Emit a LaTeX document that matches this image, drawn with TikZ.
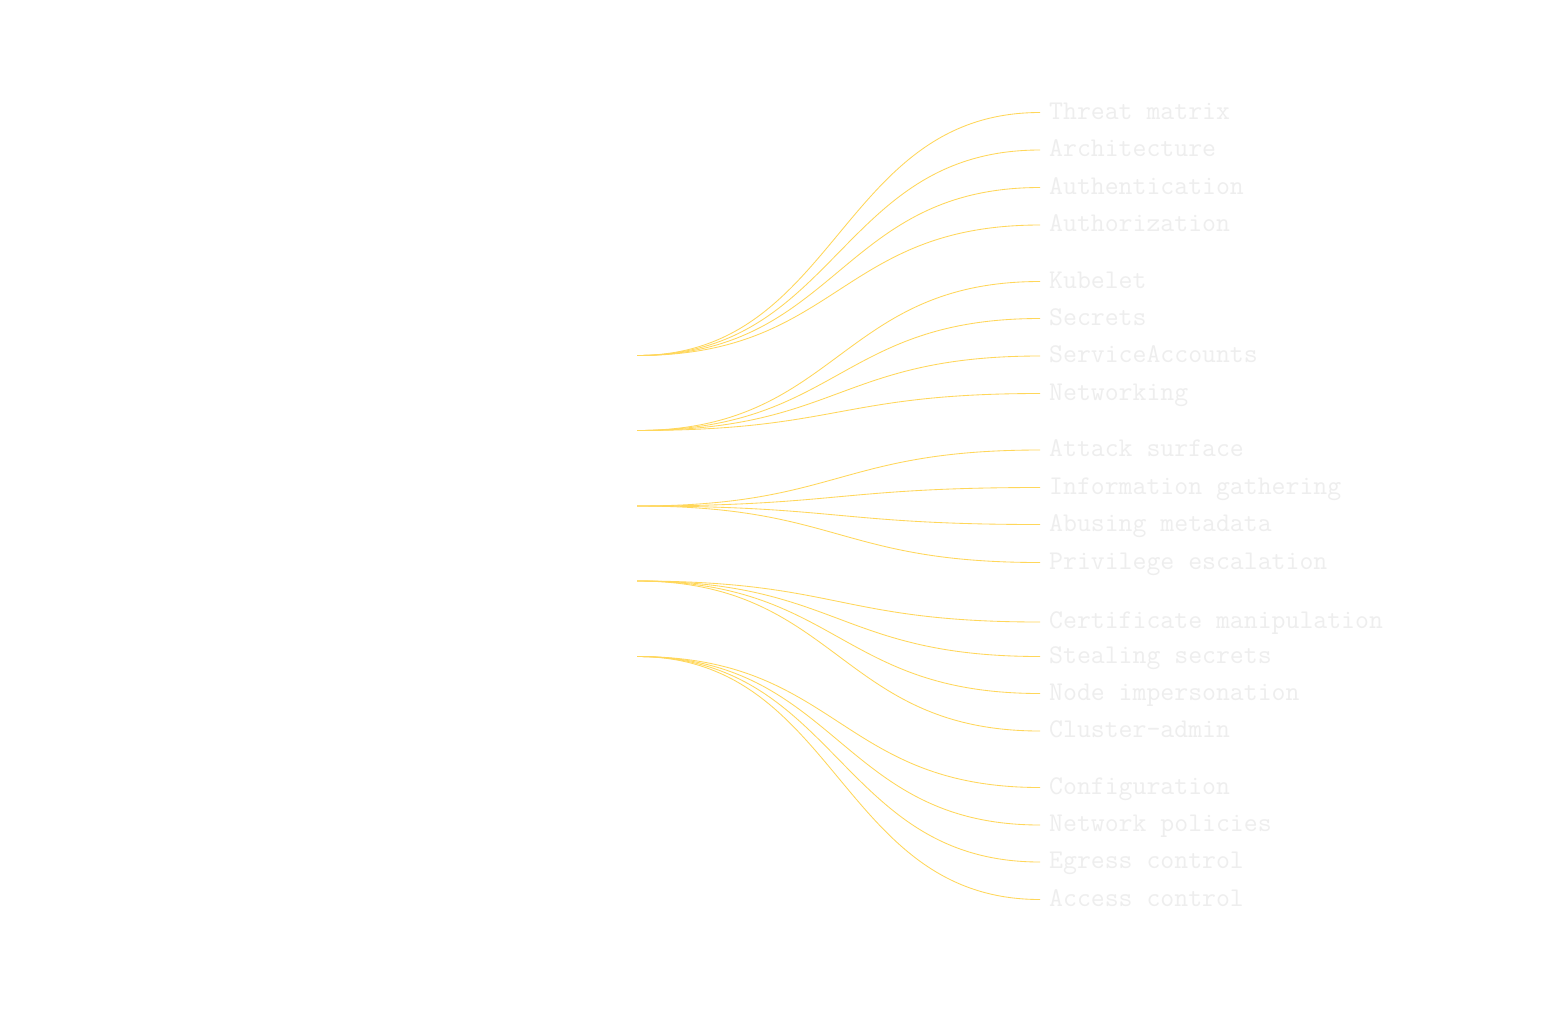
\documentclass[tikz,border=0pt]{standalone}
\usepackage{fontspec}
\definecolor{linkcol}{HTML}{FFD75A}
\definecolor{labcol}{HTML}{EEEEEE}
\tikzset{
  link/.style={draw=linkcol, line width=0.85pt},
  leaf/.style={anchor=base west, inner sep=0pt, text=labcol, font=\ttfamily\fontsize{27}{30}\selectfont},
}
\begin{document}
\begin{tikzpicture}[x=1pt,y=-1pt]
\useasboundingbox[fill=white] (0,0) rectangle (1566,1013);
% parent points
\coordinate (p1) at (637,355.5);
\coordinate (p2) at (637,430.5);
\coordinate (p3) at (637,506);
\coordinate (p4) at (637,581);
\coordinate (p5) at (637,656.5);
\foreach \n/\y/\g/\t in {
  1/112.5/1/Threat matrix,
  2/150/1/Architecture,
  3/187.5/1/Authentication,
  4/225/1/Authorization,
  5/281.5/2/Kubelet,
  6/318.5/2/Secrets,
  7/356/2/ServiceAccounts,
  8/393.5/2/Networking,
  9/450/3/Attack surface,
  10/487.5/3/Information gathering,
  11/524.5/3/Abusing metadata,
  12/562.5/3/Privilege escalation,
  13/622/4/Certificate manipulation,
  14/656.5/4/Stealing secrets,
  15/693.5/4/Node impersonation,
  16/731/4/Cluster-admin,
  17/787.5/5/Configuration,
  18/825/5/Network policies,
  19/862/5/Egress control,
  20/899.5/5/Access control}
{
  \coordinate (e\n) at (1040,\y);
  \node[leaf] (t\n) at (1049,\y+6.5) {\t};
  \draw[link] (p\g) .. controls ([xshift=201.5pt]p\g) and ([xshift=-201.5pt]e\n) .. (e\n);
}
\end{tikzpicture}
\end{document}
